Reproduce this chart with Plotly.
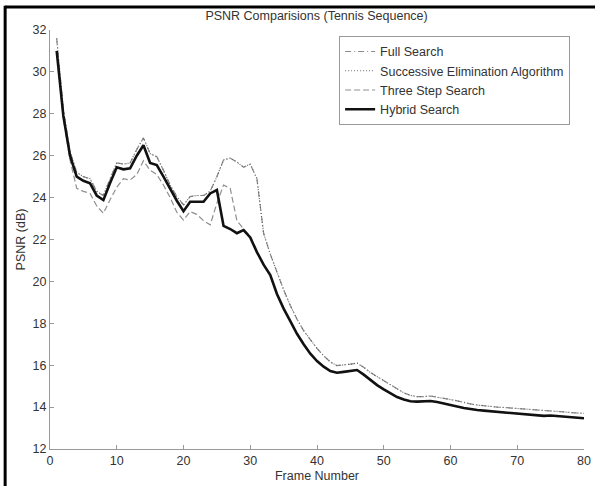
import plotly.graph_objects as go

frames = list(range(1, 81))

full_search = [31.6, 28.2, 26.2, 25.2, 25.0, 24.9, 24.3, 24.1, 24.9, 25.65,
               25.6, 25.65, 26.3, 26.85, 26.1, 25.95, 25.3, 24.6, 24.05, 23.65,
               24.05, 24.1, 24.1, 24.3, 25.0, 25.8, 25.88, 25.7, 25.45, 25.6,
               24.9, 22.3, 21.3, 20.4, 19.6, 18.85, 18.2, 17.65, 17.2, 16.8,
               16.45, 16.15, 15.98, 16.0, 16.05, 16.1, 15.9, 15.65, 15.45, 15.25,
               15.05, 14.85, 14.68, 14.56, 14.5, 14.5, 14.53, 14.47, 14.4, 14.36,
               14.3, 14.22, 14.15, 14.1, 14.06, 14.03, 14.0, 13.98, 13.96, 13.94,
               13.91, 13.88, 13.86, 13.83, 13.82, 13.8, 13.77, 13.74, 13.72, 13.7]

sea = [31.6, 28.2, 26.2, 25.2, 25.0, 24.9, 24.3, 24.1, 24.9, 25.65,
       25.6, 25.65, 26.3, 26.85, 26.1, 25.95, 25.3, 24.6, 24.05, 23.65,
       24.05, 24.1, 24.1, 24.3, 25.0, 25.8, 25.88, 25.7, 25.45, 25.6,
       24.9, 22.3, 21.3, 20.4, 19.6, 18.85, 18.2, 17.65, 17.2, 16.8,
       16.45, 16.15, 15.98, 16.0, 16.05, 16.1, 15.9, 15.65, 15.45, 15.25,
       15.05, 14.85, 14.68, 14.56, 14.5, 14.5, 14.53, 14.47, 14.4, 14.36,
       14.3, 14.22, 14.15, 14.1, 14.06, 14.03, 14.0, 13.98, 13.96, 13.94,
       13.91, 13.88, 13.86, 13.83, 13.82, 13.8, 13.77, 13.74, 13.72, 13.7]

three_step = [31.0, 27.8, 25.8, 24.44, 24.3, 24.2, 23.6, 23.25, 23.9, 24.5,
              24.9, 24.84, 25.1, 25.76, 25.3, 25.1, 24.6, 24.0, 23.3, 22.93,
              23.33, 23.2, 22.9, 22.7, 23.73, 24.6, 24.44, 22.9, 22.5, 22.15,
              21.4, 20.8, 20.3, 19.4, 18.7, 18.1, 17.5, 17.0, 16.55, 16.2,
              15.93, 15.72, 15.64, 15.68, 15.72, 15.77, 15.55, 15.28, 15.05, 14.85,
              14.65, 14.48, 14.36, 14.28, 14.26, 14.27, 14.29, 14.24, 14.16, 14.1,
              14.03, 13.96, 13.9, 13.86, 13.83, 13.8, 13.78, 13.75, 13.72, 13.7,
              13.68, 13.65, 13.62, 13.58, 13.6, 13.57, 13.53, 13.5, 13.48, 13.47]

hybrid = [31.0, 27.9, 26.0, 25.0, 24.8, 24.68, 24.1, 23.88, 24.7, 25.45,
          25.35, 25.4, 26.0, 26.5, 25.65, 25.55, 25.0, 24.4, 23.85, 23.35,
          23.8, 23.8, 23.8, 24.2, 24.36, 22.65, 22.5, 22.3, 22.45, 22.1,
          21.4, 20.8, 20.3, 19.4, 18.7, 18.1, 17.5, 17.0, 16.55, 16.2,
          15.93, 15.72, 15.64, 15.68, 15.72, 15.77, 15.55, 15.28, 15.05, 14.85,
          14.65, 14.48, 14.36, 14.28, 14.26, 14.27, 14.29, 14.24, 14.16, 14.1,
          14.03, 13.96, 13.9, 13.86, 13.83, 13.8, 13.78, 13.75, 13.72, 13.7,
          13.68, 13.65, 13.62, 13.58, 13.6, 13.57, 13.53, 13.5, 13.48, 13.47]

x_ticks = [0, 10, 20, 30, 40, 50, 60, 70, 80]
y_ticks = [12, 14, 16, 18, 20, 22, 24, 26, 28, 30, 32]

FONT = "Liberation Sans, Arial, sans-serif"
TXT = "#333333"

fig = go.Figure()
fig.add_trace(go.Scatter(x=frames, y=full_search, mode="lines", name="Full Search",
                         line=dict(color="#8a8a8a", width=1.2, dash="6px,3px,1px,3px")))
fig.add_trace(go.Scatter(x=frames, y=sea, mode="lines", name="Successive Elimination Algorithm",
                         line=dict(color="#6a6a6a", width=1.2, dash="1px,2px")))
fig.add_trace(go.Scatter(x=frames, y=three_step, mode="lines", name="Three Step Search",
                         line=dict(color="#8f8f8f", width=1.2, dash="6px,3px")))
fig.add_trace(go.Scatter(x=frames, y=hybrid, mode="lines", name="Hybrid Search",
                         line=dict(color="#111111", width=2.6)))

fig.update_layout(
    width=595, height=486,
    margin=dict(l=50, r=11, t=30, b=37, autoexpand=False),
    paper_bgcolor="white", plot_bgcolor="white",
    font=dict(family=FONT, size=12.5, color=TXT),
    title=dict(text="PSNR Comparisions (Tennis Sequence)", x=0.532, xanchor="center",
               y=0.967, yanchor="middle", font=dict(family=FONT, size=12.5, color=TXT)),
    showlegend=True,
    legend=dict(x=0.974, y=0.986, xanchor="right", yanchor="top",
                bgcolor="white", bordercolor="#999999", borderwidth=1,
                font=dict(family=FONT, size=12.5, color=TXT),
                tracegroupgap=0, itemwidth=30),
    xaxis=dict(range=[0, 80], tickvals=x_ticks, ticktext=[str(v) for v in x_ticks],
               automargin=False,
               showgrid=False, zeroline=False, showline=True, linecolor="#999999",
               linewidth=1, ticks="inside", ticklen=4, tickcolor="#999999",
               tickfont=dict(family=FONT, size=12.5, color=TXT),
               title=dict(text="Frame Number", standoff=4,
                          font=dict(family=FONT, size=12.5, color=TXT))),
    yaxis=dict(range=[12, 32], tickvals=y_ticks, ticktext=[str(v) for v in y_ticks],
               automargin=False,
               showgrid=False, zeroline=False, showline=True, linecolor="#999999",
               linewidth=1, ticks="inside", ticklen=4, tickcolor="#999999",
               tickfont=dict(family=FONT, size=12.5, color=TXT),
               title=dict(text="PSNR (dB)", standoff=4,
                          font=dict(family=FONT, size=12.5, color=TXT))),
    shapes=[
        dict(type="line", xref="paper", yref="paper", x0=-0.084, x1=1.03, y0=1.055, y1=1.055,
             line=dict(color="black", width=3)),
        dict(type="line", xref="paper", yref="paper", x0=-0.084, x1=-0.084, y0=1.058, y1=-0.1,
             line=dict(color="black", width=3)),
    ],
)

fig.write_html("out.html", config={"displayModeBar": False},
               post_script="document.body.style.margin='0';document.body.style.padding='0';")
